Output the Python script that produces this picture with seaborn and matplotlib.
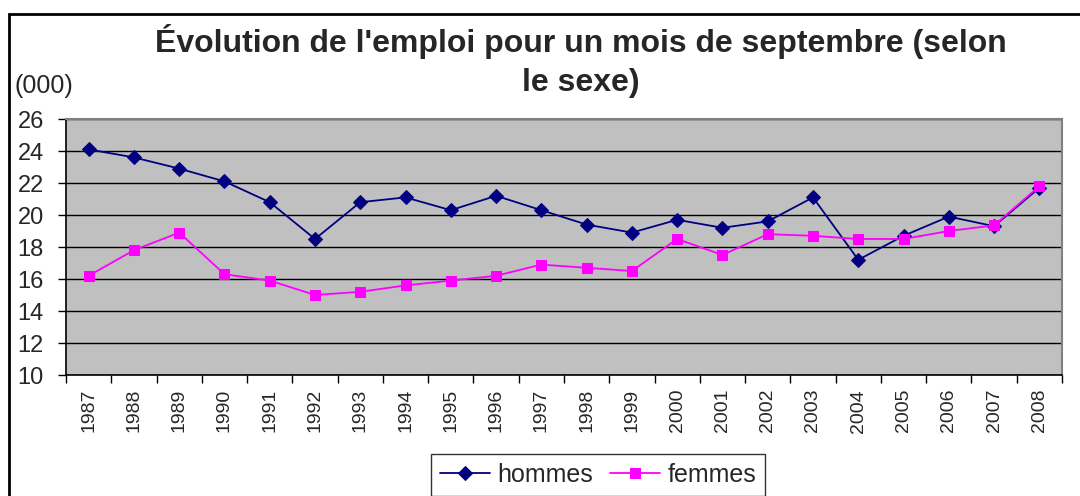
import numpy as np
import matplotlib
matplotlib.use("Agg")
import matplotlib.pyplot as plt
import seaborn as sns
from matplotlib.patches import Rectangle

# Data (thousands)
annees = ['1987', '1988', '1989', '1990', '1991', '1992', '1993', '1994', '1995', '1996', '1997',
          '1998', '1999', '2000', '2001', '2002', '2003', '2004', '2005', '2006', '2007', '2008']
hommes = [24.1, 23.6, 22.9, 22.1, 20.8, 18.5, 20.8, 21.1, 20.3, 21.2, 20.3,
          19.4, 18.9, 19.7, 19.2, 19.6, 21.1, 17.2, 18.7, 19.9, 19.3, 21.7]
femmes = [16.2, 17.8, 18.9, 16.3, 15.9, 15.0, 15.2, 15.6, 15.9, 16.2, 16.9,
          16.7, 16.5, 18.5, 17.5, 18.8, 18.7, 18.5, 18.5, 19.0, 19.35, 21.8]
y_ticks = [10, 12, 14, 16, 18, 20, 22, 24, 26]

sns.set_style("white")
plt.rcParams['font.family'] = ['Liberation Sans', 'DejaVu Sans']

W, H = 1080, 496
fig = plt.figure(figsize=(W / 100, H / 100), dpi=100)
ax = fig.add_axes([66 / W, 1 - 375 / H, (1062 - 66) / W, (375 - 119) / H])
ax.set_facecolor('#C0C0C0')

pos = np.arange(len(annees))
sns.lineplot(x=pos, y=hommes, ax=ax, color='#000080', marker='D', markersize=7,
             markeredgecolor='#000080', linewidth=1.3, label='hommes', legend=False)
sns.lineplot(x=pos, y=femmes, ax=ax, color='#FF00FF', marker='s', markersize=7,
             markeredgecolor='#FF00FF', linewidth=1.3, label='femmes', legend=False)

ax.set_xlim(-0.5, len(annees) - 0.5)
ax.set_ylim(10, 26)
ax.set_yticks(y_ticks)
ax.set_yticklabels([str(v) for v in y_ticks], fontsize=17)
ax.yaxis.grid(True, color='black', linewidth=1)
ax.set_axisbelow(True)

# ticks between categories, labels centred on categories
ax.set_xticks(np.arange(len(annees) + 1) - 0.5)
ax.set_xticklabels([])
ax.set_xticks(pos, minor=True)
ax.set_xticklabels(annees, minor=True, rotation=90, fontsize=14)
ax.tick_params(axis='x', which='major', direction='out', length=6, width=1, color='black', bottom=True)
ax.tick_params(axis='x', which='minor', length=0, pad=10)
ax.tick_params(axis='y', direction='out', length=6, width=1, color='black', left=True, pad=10)
for side in ['left', 'bottom']:
    ax.spines[side].set_color('black')
    ax.spines[side].set_linewidth(1.2)
for side in ['top', 'right']:
    ax.spines[side].set_color('#808080')
    ax.spines[side].set_linewidth(1.5)
ax.set_xlabel('')
ax.set_ylabel('')

fig.text(581 / W, 1 - 52 / H, "Évolution de l'emploi pour un mois de septembre (selon",
         ha='center', va='baseline', fontsize=23, fontweight='bold')
fig.text(581 / W, 1 - 91 / H, "le sexe)", ha='center', va='baseline', fontsize=23, fontweight='bold')
fig.text(15 / W, 1 - 93 / H, "(000)", ha='left', va='baseline', fontsize=18)

handles, labels = ax.get_legend_handles_labels()
leg = fig.legend(handles, labels, loc='upper center', bbox_to_anchor=(598 / W, 1 - 454 / H),
                 ncol=2, fontsize=18, frameon=True, fancybox=False, edgecolor='black',
                 handlelength=2.0, columnspacing=0.7, handletextpad=0.3, borderpad=0.35,
                 borderaxespad=0)
leg.get_frame().set_linewidth(1)

# outer chart frame
fig.patches.append(Rectangle((9 / W, -0.1), 1.2, 1.1 - 14 / H, transform=fig.transFigure,
                             fill=False, edgecolor='black', linewidth=2))

fig.savefig('out.png', dpi=100)
